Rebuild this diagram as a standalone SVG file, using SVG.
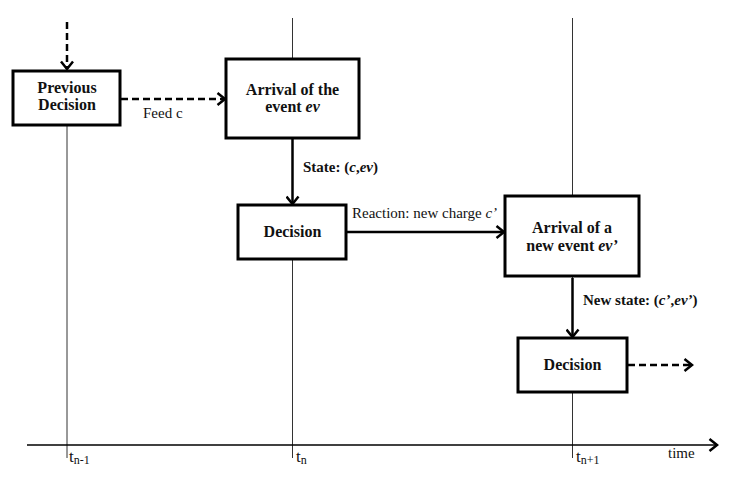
<svg xmlns="http://www.w3.org/2000/svg" width="733" height="482" viewBox="0 0 733 482">
<style>
.bg{fill:#ffffff}
.box{fill:#ffffff;stroke:#000;stroke-width:3}
.tl{stroke:#333;stroke-width:1;fill:none}
.ar{stroke:#000;stroke-width:2.5;fill:none}
.da{stroke:#000;stroke-width:2.5;fill:none;stroke-dasharray:7 4}
.b{font-family:"Liberation Serif","Times New Roman",serif;font-weight:bold;font-size:16px;fill:#111;text-anchor:middle}
.lb{font-family:"Liberation Serif","Times New Roman",serif;font-weight:bold;font-size:15px;fill:#111}
.r{font-family:"Liberation Serif","Times New Roman",serif;font-size:15px;fill:#111}
.t{font-family:"Liberation Serif","Times New Roman",serif;font-size:17px;fill:#111}
</style>
<defs>
<marker id="hd" viewBox="0 0 12 14" refX="10.5" refY="7" markerWidth="12" markerHeight="14" markerUnits="userSpaceOnUse" orient="auto">
<polyline points="3,1 10.5,7 3,13" fill="none" stroke="#000" stroke-width="2.5"/>
</marker>
</defs>
<rect class="bg" width="733" height="482"/>
<g id="timeline">
<line class="tl" x1="67" y1="126" x2="67" y2="458"/>
<line class="tl" x1="292.5" y1="18" x2="292.5" y2="458" stroke="#555"/>
<line class="tl" x1="572.5" y1="18" x2="572.5" y2="458"/>
<line x1="27" y1="445" x2="717" y2="445" stroke="#000" stroke-width="1.5" marker-end="url(#hd)"/>
<text class="t" x="69" y="462">t<tspan font-size="12" dy="2">n-1</tspan></text>
<text class="t" x="296" y="462">t<tspan font-size="12" dy="2">n</tspan></text>
<text class="t" x="576" y="462">t<tspan font-size="12" dy="2">n+1</tspan></text>
<text class="r" x="668" y="458" font-size="16">time</text>
</g>
<g id="connectors">
<line class="da" x1="67" y1="22" x2="67" y2="69" marker-end="url(#hd)"/>
<line class="da" x1="121" y1="99" x2="225" y2="99" marker-end="url(#hd)"/>
<line class="ar" x1="292.5" y1="139" x2="292.5" y2="204" marker-end="url(#hd)"/>
<line class="ar" x1="347" y1="232" x2="504" y2="232" marker-end="url(#hd)"/>
<line class="ar" x1="572.5" y1="278" x2="572.5" y2="337" marker-end="url(#hd)"/>
<line class="da" x1="628" y1="365" x2="692" y2="365" marker-end="url(#hd)"/>
<text class="r" x="143" y="118">Feed c</text>
<text class="lb" x="303" y="172">State: (<tspan font-style="italic">c</tspan>,<tspan font-style="italic">ev</tspan>)</text>
<text class="r" x="352" y="218">Reaction: new charge <tspan font-style="italic">c’</tspan></text>
<text class="lb" x="583" y="305">New state: (<tspan font-style="italic">c’</tspan>,<tspan font-style="italic">ev’</tspan>)</text>
</g>
<g id="prev">
<rect class="box" x="13" y="71" width="107" height="54"/>
<text class="b" x="67" y="93">Previous</text>
<text class="b" x="67" y="110">Decision</text>
</g>
<g id="arrival">
<rect class="box" x="226" y="59" width="133" height="79"/>
<text class="b" x="292.5" y="95">Arrival of the</text>
<text class="b" x="292.5" y="112">event <tspan font-style="italic">ev</tspan></text>
</g>
<g id="decision1">
<rect class="box" x="238" y="205" width="108" height="54"/>
<text class="b" x="292.5" y="237">Decision</text>
</g>
<g id="arrival2">
<rect class="box" x="505" y="196" width="134" height="80"/>
<text class="b" x="572" y="233">Arrival of  a</text>
<text class="b" x="572" y="251">new event <tspan font-style="italic">ev’</tspan></text>
</g>
<g id="decision2">
<rect class="box" x="518" y="338" width="109" height="54"/>
<text class="b" x="572.5" y="370">Decision</text>
</g>
</svg>
